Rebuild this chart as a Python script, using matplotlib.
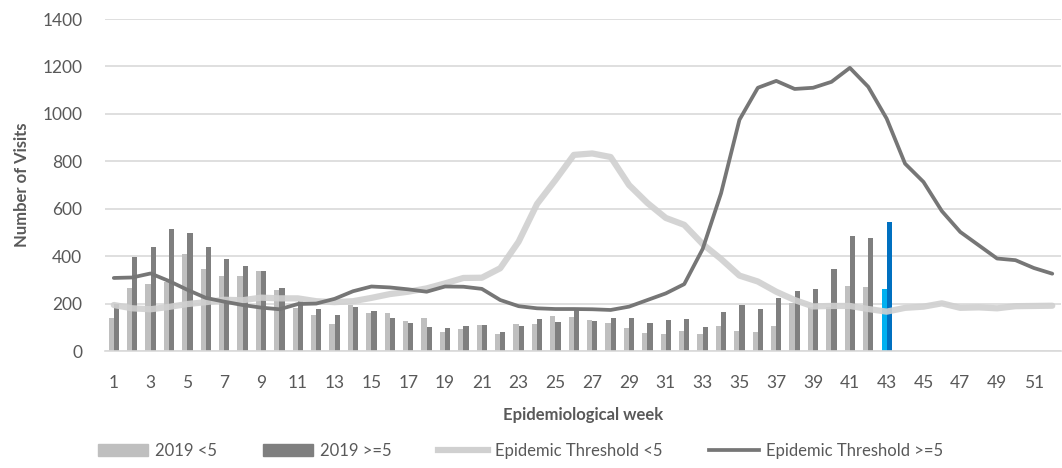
import numpy as np
import matplotlib.pyplot as plt
from matplotlib.patches import Patch
from matplotlib.lines import Line2D

plt.rcParams['font.family'] = ['Lato', 'DejaVu Sans']

weeks = np.arange(1, 53)

# 2019 visits, weeks 1-43
visits_lt5 = [140, 265, 283, 292, 408, 347, 315, 318, 338, 257,
              182, 153, 113, 196, 162, 160, 128, 139, 80, 94,
              110, 72, 115, 112, 148, 143, 130, 120, 98, 75,
              72, 85, 72, 105, 84, 80, 107, 201, 185, 187,
              273, 269, 262]
visits_ge5 = [198, 398, 440, 513, 499, 439, 387, 360, 338, 265,
              212, 176, 153, 185, 168, 139, 120, 100, 96, 107,
              110, 82, 105, 135, 122, 177, 128, 139, 138, 120,
              131, 135, 101, 163, 194, 176, 222, 254, 262, 345,
              487, 476, 544]

# epidemic thresholds, weeks 1-52
thresh_lt5 = [194, 180, 176, 186, 198, 206, 216, 214, 225, 222,
              222, 210, 206, 210, 224, 240, 250, 264, 285, 308,
              309, 349, 461, 620, 721, 827, 833, 818, 700, 624,
              561, 532, 451, 388, 318, 293, 250, 215, 188, 190,
              190, 177, 166, 182, 187, 201, 182, 184, 180, 189,
              190, 191]
thresh_ge5 = [308, 310, 327, 295, 258, 224, 208, 194, 183, 176,
              198, 200, 220, 252, 272, 268, 260, 250, 272, 271,
              262, 215, 189, 180, 177, 177, 176, 173, 187, 215,
              243, 282, 430, 665, 975, 1110, 1139, 1105, 1110, 1135,
              1194, 1114, 980, 790, 713, 590, 502, 446, 390, 383,
              350, 326]

c_lt5 = '#bfbfbf'
c_ge5 = '#7f7f7f'
c_th_lt5 = '#d0d0d0'
c_th_ge5 = '#767676'
txt = '#595959'

fig = plt.figure(figsize=(10.62, 4.68), dpi=100)
ax = fig.add_axes([0.0985, 0.25, 0.901, 0.7094])

n = len(visits_lt5)
wk = weeks[:n]
w = 0.28
col_lt5 = [c_lt5] * (n - 1) + ['#00b0f0']
col_ge5 = [c_ge5] * (n - 1) + ['#0070c0']
ax.bar(wk - w / 2, visits_lt5, width=w, color=col_lt5, zorder=2)
ax.bar(wk + w / 2, visits_ge5, width=w, color=col_ge5, zorder=2)

ax.plot(weeks, thresh_lt5, color=c_th_lt5, lw=4.5, alpha=0.9,
        solid_capstyle='round', solid_joinstyle='round', zorder=3)
ax.plot(weeks, thresh_ge5, color=c_th_ge5, lw=2.7,
        solid_capstyle='round', solid_joinstyle='round', zorder=4)

ax.set_xlim(0.5, 52.5)
ax.set_ylim(0, 1400)
ax.set_yticks(np.arange(0, 1401, 200))
ax.set_xticks(np.arange(1, 53, 2))
ax.grid(axis='y', color='#d9d9d9', lw=1.2, zorder=0)
ax.set_axisbelow(True)
for s in ['top', 'right', 'left']:
    ax.spines[s].set_visible(False)
ax.spines['bottom'].set_color('#d9d9d9')
ax.spines['bottom'].set_linewidth(1.2)
ax.tick_params(length=0, labelsize=12.5, colors=txt)
ax.tick_params(axis='x', pad=17)
ax.tick_params(axis='y', pad=16)

ax.set_ylabel('Number of Visits', fontsize=12, fontweight='bold', color=txt)
ax.yaxis.set_label_coords(-0.078, 0.5)
ax.set_xlabel('Epidemiological week', fontsize=12, fontweight='bold', color=txt, labelpad=12)

handles = [
    Patch(color=c_lt5, label='2019 <5'),
    Patch(color=c_ge5, label='2019 >=5'),
    Line2D([], [], color=c_th_lt5, lw=4.5, label='Epidemic Threshold <5'),
    Line2D([], [], color=c_th_ge5, lw=2.7, label='Epidemic Threshold >=5'),
]
fig.legend(handles=handles, loc='center', bbox_to_anchor=(0.49, 0.036), ncol=4,
           frameon=False, fontsize=12, labelcolor=txt, handlelength=3.0,
           handleheight=0.75, handletextpad=0.4, columnspacing=2.8)

fig.savefig('out.png', dpi=100)
